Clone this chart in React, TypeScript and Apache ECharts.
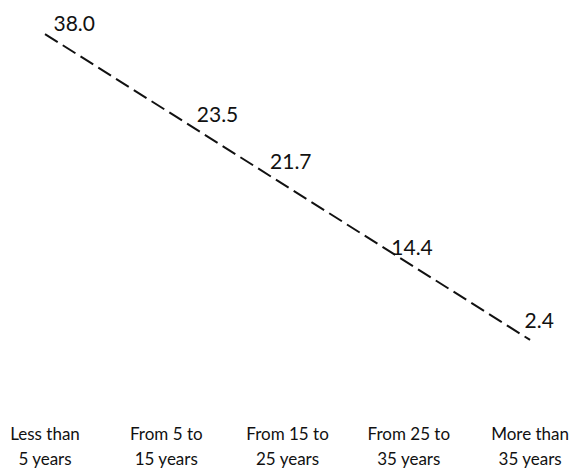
import React, { useEffect, useRef } from "react";
import * as echarts from "echarts";

const categories = [
  "Less than\n5 years",
  "From 5 to\n15 years",
  "From 15 to\n25 years",
  "From 25 to\n35 years",
  "More than\n35 years",
];
const values = [38.0, 23.5, 21.7, 14.4, 2.4];
// dashed linear trend line, read at first and last category
const trendValues = [36.1, null, null, null, 3.9];
// label placement (style only)
const labelOffsets = [
  [8, 6],
  [30, -40],
  [-18, -10],
  [-18, 6],
  [-6, -35],
];

export default function App() {
  const ref = useRef<HTMLDivElement>(null);
  useEffect(() => {
    document.body.style.margin = "0";
    if (!ref.current) return;
    const chart = echarts.init(ref.current, null, { renderer: "svg" });
    chart.setOption({
      animation: false,
      backgroundColor: "#ffffff",
      grid: { left: 45, right: 41, top: 16, bottom: 88, containLabel: false },
      xAxis: {
        type: "category",
        data: categories,
        boundaryGap: false,
        axisLine: { show: false },
        axisTick: { show: false },
        splitLine: { show: false },
        axisLabel: {
          interval: 0,
          fontFamily: "Lato",
          fontSize: 17,
          lineHeight: 25,
          margin: 44,
          color: "#111111",
        },
      },
      yAxis: { type: "value", min: 0, max: 38, show: false },
      series: [
        {
          type: "line",
          data: trendValues,
          connectNulls: true,
          symbol: "none",
          lineStyle: { color: "#111111", width: 2, type: [15, 6] },
          z: 1,
        },
        {
          type: "scatter",
          data: values.map((v, i) => ({
            value: v,
            label: { offset: labelOffsets[i] },
          })),
          symbolSize: 1,
          itemStyle: { color: "#ffffff", opacity: 1 },
          label: {
            show: true,
            position: "right",
            distance: 0,
            fontFamily: "Lato",
            fontSize: 21,
            color: "#111111",
            opacity: 1,
            textBorderWidth: 0,
            formatter: (p: any) => Number(p.value).toFixed(1),
          },
          z: 2,
        },
      ],
    });
    return () => chart.dispose();
  }, []);
  return <div ref={ref} style={{ width: 572, height: 471 }} />;
}
